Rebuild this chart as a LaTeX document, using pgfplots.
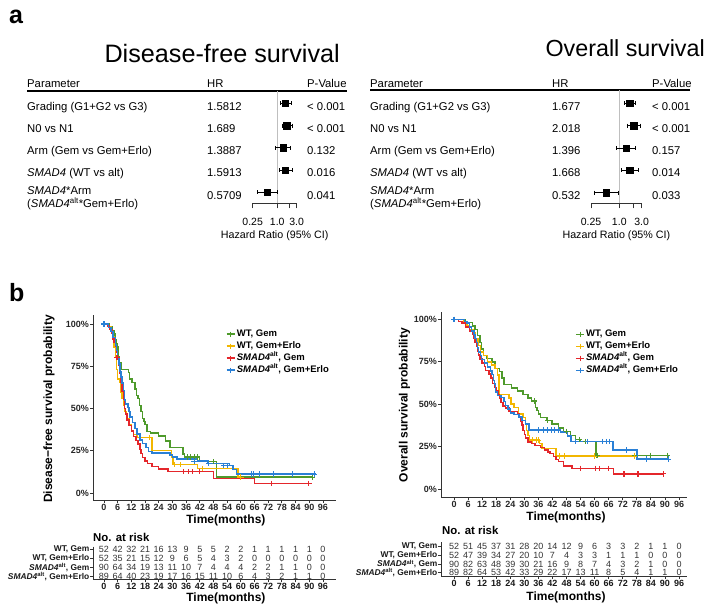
\documentclass[border=0pt]{standalone}
\usepackage{fontspec}
\setmainfont{Liberation Sans}
\usepackage{pgfplots}
\pgfplotsset{compat=1.18}
\definecolor{cG}{HTML}{4E9A2B}
\definecolor{cY}{HTML}{F2B600}
\definecolor{cR}{HTML}{E4262B}
\definecolor{cB}{HTML}{2A80D6}
\newcommand{\fs}[1]{\fontsize{#1}{#1}\selectfont}

\pgfplotsset{
  /pgf/number format/assume math mode=true,
  forestax/.style={anchor=south west, scale only axis, xmin=0.25, xmax=3,
    y dir=reverse, axis x line*=bottom, axis y line=none,
    axis line style={-, black!80, line width=0.6pt},
    xtick={0.25,1,2,3}, xticklabels={0.25,1.0,,3.0}, xminorticks=false, ytick=\empty,
    tick align=outside, major tick length=5pt, xtick style={black!80, line width=0.6pt},
    xticklabel style={font=\fs{10.5}, inner sep=0pt, anchor=north, yshift=-10pt},
    xlabel={Hazard Ratio (95\% CI)},
    xlabel style={font=\fs{10.7}, at={(axis description cs:0.5,0)}, anchor=center, yshift=-32.7pt},
    clip=false},
  ci/.style={black, line width=0.7pt, mark=|, mark size=2pt, mark options={solid}},
  km/.style={anchor=south west, scale only axis,
    axis x line*=bottom, axis y line*=left,
    axis line style={-, black!80, line width=0.9pt},
    xtick={0,6,...,96}, ytick={0,25,50,75,100},
    yticklabels={0\%,25\%,50\%,75\%,100\%},
    tick align=outside, major tick length=3pt, tick style={black!80, line width=0.9pt},
    ticklabel style={font=\fs{9}\bfseries, text=black!85, inner sep=1pt},
    xlabel={Time(months)}, label style={font=\fs{12}\bfseries},
    legend cell align=left,
    legend style={draw=none, fill=none, font=\fs{9.5}\bfseries, row sep=1pt, inner sep=0pt,
      nodes={inner sep=1pt, text height=7pt, text depth=2pt}},
    legend image code/.code={\draw[mark repeat=2,mark phase=2,#1] plot coordinates {(0pt,0pt) (4.2pt,0pt) (8.4pt,0pt)};}},
  kml/.style={const plot, forget plot, line width=1.5pt},
  lgi/.style={line width=1.5pt, mark=+, mark size=2.7pt, mark options={line width=1.1pt}},
  cens/.style={only marks, mark=+, mark size=2.7pt, line width=1.1pt, forget plot},
  rt/.style={anchor=south west, scale only axis, y dir=reverse,
    axis x line*=bottom, axis y line*=left,
    axis line style={-, black!80, line width=0.9pt},
    xtick={0,6,...,96}, ytick={1,2,3,4},
    yticklabels={{WT, Gem},{WT, Gem+Erlo},{\textit{SMAD4}\textsuperscript{alt}, Gem},{\textit{SMAD4}\textsuperscript{alt}, Gem+Erlo}},
    tick align=outside, major tick length=3pt, tick style={black!80, line width=0.9pt},
    ticklabel style={font=\fs{9}\bfseries, text=black!90, inner sep=1pt},
    yticklabel style={font=\fs{8.4}\bfseries, inner sep=0.5pt},
    xlabel={Time(months)}, label style={font=\fs{12}\bfseries}, clip=false},
  cnt/.style={draw=none, mark=none, forget plot, nodes near coords, point meta=explicit symbolic,
    every node near coord/.append style={anchor=center, font=\fs{9}, text=black!80, inner sep=0pt}}
}

\begin{document}
\begin{tikzpicture}[x=1pt,y=-1pt]
\useasboundingbox (0,0) rectangle (714,605);

% panel letters and titles
\node[anchor=base west, inner sep=0pt, font=\fs{25}\bfseries] at (9,23) {a};
\node[anchor=base west, inner sep=0pt, font=\fs{25}\bfseries] at (9,301) {b};
\node[anchor=base east, inner sep=0pt, font=\fs{25.2}] at (340,62) {Disease-free survival};
\node[anchor=base east, inner sep=0pt, font=\fs{23.3}] at (705,56) {Overall survival};

% ---- forest tables (text)
\begin{scope}[every node/.style={inner sep=0pt, font=\fs{11.3}, anchor=base west}]
\node at (27,87) {Parameter}; \node at (207,87) {HR}; \node at (307,87) {P-Value};
\draw[line width=1.4pt] (27,91) -- (347,91);
\node at (27,110.1) {Grading (G1+G2 vs G3)};
\node at (27,132.4) {N0 vs N1};
\node at (27,154.6) {Arm (Gem vs Gem+Erlo)};
\node at (27,176.9) {\textit{SMAD4} (WT vs alt)};
\node at (27,194.5) {\textit{SMAD4}*Arm};
\node at (27,207) {(\textit{SMAD4}\textsuperscript{alt}*Gem+Erlo)};
\node at (207,110.1) {1.5812}; \node at (307,110.1) {< 0.001};
\node at (207,132.4) {1.689};  \node at (307,132.4) {< 0.001};
\node at (207,154.6) {1.3887}; \node at (307,154.6) {0.132};
\node at (207,176.9) {1.5913}; \node at (307,176.9) {0.016};
\node at (207,199.1) {0.5709}; \node at (307,199.1) {0.041};

\node at (370,87) {Parameter}; \node at (552,87) {HR}; \node at (652,87) {P-Value};
\draw[line width=1.4pt] (370,90) -- (690,90);
\node at (370,110.1) {Grading (G1+G2 vs G3)};
\node at (370,132.4) {N0 vs N1};
\node at (370,154.6) {Arm (Gem vs Gem+Erlo)};
\node at (370,176.9) {\textit{SMAD4} (WT vs alt)};
\node at (370,194.5) {\textit{SMAD4}*Arm};
\node at (370,207) {(\textit{SMAD4}\textsuperscript{alt}*Gem+Erlo)};
\node at (552,110.1) {1.677}; \node at (652,110.1) {< 0.001};
\node at (552,132.4) {2.018}; \node at (652,132.4) {< 0.001};
\node at (552,154.6) {1.396}; \node at (652,154.6) {0.157};
\node at (552,176.9) {1.668}; \node at (652,176.9) {0.014};
\node at (552,199.1) {0.532}; \node at (652,199.1) {0.033};
\end{scope}

% ---- forest plot, DFS
\begin{semilogxaxis}[forestax, at={(252.7pt,-203.3pt)}, width=44pt, height=112.3pt, ymin=0.447, ymax=5.494]
\draw[black!25, line width=0.6pt] (axis cs:1,0.447) -- (axis cs:1,5.494);
\addplot[ci] coordinates {(1.22,1) (2.18,1)};
\addplot[ci] coordinates {(1.30,2) (2.30,2)};
\addplot[ci] coordinates {(0.91,3) (2.12,3)};
\addplot[ci] coordinates {(1.10,4) (2.30,4)};
\addplot[ci] coordinates {(0.33,5) (0.98,5)};
\addplot[only marks, mark=square*, mark size=3.2pt, black] coordinates {(1.5812,1) (1.689,2) (1.3887,3) (1.5913,4) (0.5709,5)};
\end{semilogxaxis}

% ---- forest plot, OS
\begin{semilogxaxis}[forestax, at={(591pt,-203.3pt)}, width=50.7pt, height=113.3pt, ymin=0.405, ymax=5.474]
\draw[black!25, line width=0.6pt] (axis cs:1,0.405) -- (axis cs:1,5.474);
\addplot[ci] coordinates {(1.26,1) (2.23,1)};
\addplot[ci] coordinates {(1.45,2) (2.80,2)};
\addplot[ci] coordinates {(0.88,3) (2.21,3)};
\addplot[ci] coordinates {(1.11,4) (2.51,4)};
\addplot[ci] coordinates {(0.30,5) (0.95,5)};
\addplot[only marks, mark=square*, mark size=3.2pt, black] coordinates {(1.677,1) (2.018,2) (1.396,3) (1.668,4) (0.532,5)};
\end{semilogxaxis}

% ---- KM, disease-free survival
\begin{axis}[km, at={(93pt,-500pt)}, width=243pt, height=185pt,
  xmin=-4.8, xmax=101.7, ymin=-4.14, ymax=105.3,
  ylabel={Disease−free survival probability},
  xlabel style={at={(axis description cs:0.547,0)}, anchor=center, yshift=-20pt},
  ylabel style={at={(axis description cs:-0.181,0.492)}, anchor=center},
  legend style={at={(axis cs:53.4,97.3)}, anchor=north west}]
\addlegendimage{cG, lgi}\addlegendentry{WT, Gem}
\addlegendimage{cY, lgi}\addlegendentry{WT, Gem+Erlo}
\addlegendimage{cR, lgi}\addlegendentry{\textit{SMAD4}\textsuperscript{alt}, Gem}
\addlegendimage{cB, lgi}\addlegendentry{\textit{SMAD4}\textsuperscript{alt}, Gem+Erlo}
\addplot[cG, kml] coordinates {(0,100) (2.5,98.1) (3.5,96.2) (4.3,94.2) (4.8,90.4) (5.3,88.5) (5.8,86.5) (6.2,80.8) (6.8,77) (7.6,73.1) (10.8,71.2) (11.3,67.3) (12.3,65.4) (13.5,61.5) (14.3,57.7) (15,55.8) (15.6,51.9) (16.3,48.1) (16.9,44.2) (17.5,42.3) (18,40.4) (18.8,36.5) (20.5,35.6) (23.8,33.7) (27,30.8) (29,26.9) (34.6,23.1) (35.2,21.2) (41.8,18.5) (49.3,9.4) (91.5,9.4)};
\addplot[cY, kml] coordinates {(0,100) (2,98.1) (3,96.2) (3.8,92.3) (4.4,86.5) (5,80.8) (5.5,73.1) (6,67.3) (7,65.4) (7.5,59.6) (8,55.8) (8.5,51.9) (9,48.1) (9.8,44.2) (11,40.4) (12,36.5) (13,34.6) (14.5,32.7) (21,25) (29.5,21.2) (30.3,16.8) (41,14.5) (58.8,9.4) (60,9.4)};
\addplot[cR, kml] coordinates {(0,100) (1.5,98.9) (2.5,96.7) (3.5,94.4) (4,91.1) (4.5,88.9) (5,86.7) (5.5,83.3) (6,80) (6.5,75.6) (7,71.1) (7.5,65.6) (8,60) (8.5,55.6) (9,50) (9.5,46.7) (10,43.3) (11,40) (12,36.7) (13,33.3) (14,31.1) (15,28.9) (15.7,25.6) (16.3,23.3) (17,21.1) (18,18.9) (19,17.4) (21,15.6) (24,14.1) (28,12.6) (48,8.7) (66,5.7) (90.4,5.7)};
\addplot[cB, kml] coordinates {(0,100) (2,97.8) (3,95.5) (4,92.1) (5,87.6) (5.5,84.3) (6,79.8) (6.5,76.4) (7,71.9) (7.5,68.5) (8,65.2) (8.5,60.7) (9,55.1) (9.5,52.8) (10.5,50.6) (11,48.3) (11.5,44.9) (12.5,41.6) (13.5,38.2) (14.5,34.8) (15.9,31.5) (17,29.2) (18.5,27) (19.5,24.7) (21,23.6) (29,22.5) (30,21.3) (32,20.2) (41,18.8) (45.5,17.5) (55,16.2) (56.5,14) (58,11.2) (93,11.2)};
\addplot[cG, cens] coordinates {(36.5,21.2) (38,21.2) (39.5,21.2) (41,21.2) (48,18.5) (60,9.4) (91.5,9.4)};
\addplot[cY, cens] coordinates {(20,32.7) (31,16.8) (33.5,16.8) (43,14.5) (60,9.4)};
\addplot[cR, cens] coordinates {(0,100) (5.7,80) (35,12.6) (37,12.6) (39,12.6) (42,12.6) (73.5,5.7) (89.8,5.7)};
\addplot[cB, cens] coordinates {(0,100) (39.5,18.8) (46,17.5) (52.5,16.2) (54,16.2) (64.5,11.2) (65.5,11.2) (68,11.2) (74.5,11.2) (82.5,11.2) (92.3,11.2)};
\end{axis}

% ---- KM, overall survival
\begin{axis}[km, at={(441pt,-497pt)}, width=246pt, height=185pt,
  xmin=-5.55, xmax=99.4, ymin=-4.72, ymax=104.4,
  ylabel={Overall survival probability},
  xlabel style={at={(axis description cs:0.508,0)}, anchor=center, yshift=-20pt},
  ylabel style={at={(axis description cs:-0.148,0.497)}, anchor=center},
  legend style={at={(axis cs:51.6,94.6)}, anchor=north west}]
\addlegendimage{cG, lgi}\addlegendentry{WT, Gem}
\addlegendimage{cY, lgi}\addlegendentry{WT, Gem+Erlo}
\addlegendimage{cR, lgi}\addlegendentry{\textit{SMAD4}\textsuperscript{alt}, Gem}
\addlegendimage{cB, lgi}\addlegendentry{\textit{SMAD4}\textsuperscript{alt}, Gem+Erlo}
\addplot[cG, kml] coordinates {(0,100) (5,98.1) (7.8,96.2) (9,94.2) (10,90.4) (11,86.5) (11.8,82.7) (12.5,78.8) (14,76.9) (16.3,75) (17.5,71.2) (19.5,69.2) (20.5,65.4) (21.3,61.5) (24.5,59.6) (27,57.7) (29.5,55.8) (31.5,53.8) (33,51.9) (34.8,48.1) (35.5,46.2) (36,44.2) (37,42.2) (39.6,40.4) (41.8,38.2) (44.6,36.1) (46.7,34) (49.6,31.5) (51.8,29.2) (54,28) (60.5,19.8) (91,19.8)};
\addplot[cY, kml] coordinates {(0,100) (4,98.1) (5.5,96.2) (6.5,94.2) (8,92.3) (9.2,88.5) (10.2,84.6) (11.4,80.8) (12.5,78.8) (14.2,75) (16,73.1) (17.5,71.2) (18.5,67.3) (19.2,55.8) (23.5,53.8) (24.3,50) (25.5,48.1) (27.5,44.2) (29.5,42.3) (30.5,38.5) (31,34.6) (31.5,31.7) (32.2,28.8) (36.5,26.9) (37.5,24) (43.5,19.4) (78,19.4)};
\addplot[cR, kml] coordinates {(0,100) (2,98.9) (3.5,97.8) (5,95.6) (6.5,93.3) (8,91.1) (8.5,88.9) (9,86.7) (9.5,84.4) (10,81.1) (10.5,78.9) (11,76.7) (12,74.4) (13,72.2) (13.5,70) (15,67.8) (15.8,65.6) (16.5,62.2) (17.5,60) (18,57.8) (18.8,55.6) (19.5,53.3) (20,51.1) (21,48.9) (22,47.8) (23.5,45.6) (27,44.4) (28,42.2) (28.5,40) (29,37.8) (29.5,34.4) (30,32.2) (30.5,30) (31.5,27.8) (33,26.7) (34.5,25.6) (37,24.4) (38.5,23.1) (40,21.9) (41,20.8) (42.5,19.2) (43.5,17.5) (44.5,16.2) (46.7,13.6) (50.3,12.2) (68,8.9) (89.3,8.9)};
\addplot[cB, kml] coordinates {(0,100) (4.5,98.9) (5.5,97.8) (6.5,95.5) (7.5,93.3) (8.5,91) (9,88.8) (9.5,86.5) (10,83.1) (10.5,80.9) (11.2,78.7) (11.8,76.4) (13,74.2) (14.2,71.9) (15.5,69.7) (16.3,67.4) (16.8,64) (17.3,61.8) (17.8,57.3) (18.5,55.1) (20,53.9) (21.3,51.7) (22,49.4) (23,47.2) (24,44.9) (25.5,43.8) (27.7,42.6) (29,40.4) (30.5,38.2) (32,34.8) (45.5,33.6) (48.5,31.4) (50,28) (67.9,23.1) (78.1,17.6) (91.4,17.6)};
\addplot[cG, cens] coordinates {(0,100) (34.3,51.9) (40,40.4) (48,34) (53.5,29.2) (56,28) (61,19.8) (77,19.8) (84,19.8) (91,19.8)};
\addplot[cY, cens] coordinates {(33.5,28.8) (35,28.8) (36,28.8) (45,19.4) (47,19.4) (60,19.4) (77,19.4)};
\addplot[cR, cens] coordinates {(0,100) (54,12.2) (60.5,12.2) (62,12.2) (66,12.2) (72.5,8.9) (78.5,8.9) (89.3,8.9)};
\addplot[cB, cens] coordinates {(0,100) (36,34.8) (38,34.8) (40,34.8) (41.5,34.8) (43,34.8) (44.5,34.8) (52,28) (57,28) (63.5,28) (65,28) (66.5,28) (73.5,23.1) (82,17.6) (91.4,17.6)};
\end{axis}

% ---- numbers at risk
\node[anchor=west, inner sep=0pt, font=\fs{11.4}\bfseries] at (93,537.5) {No. at risk};
\node[anchor=west, inner sep=0pt, font=\fs{11.4}\bfseries] at (442,530) {No. at risk};

\begin{axis}[rt, at={(93pt,-579.3pt)}, width=243pt, height=32.6pt,
  xmin=-4.8, xmax=101.7, ymin=0.71, ymax=4.33,
  xlabel style={at={(axis description cs:0.547,0)}, anchor=center, yshift=-18.7pt}]
\addplot[cnt] coordinates {(0,1)[52] (6,1)[42] (12,1)[32] (18,1)[21] (24,1)[16] (30,1)[13] (36,1)[9] (42,1)[5] (48,1)[5] (54,1)[2] (60,1)[2] (66,1)[1] (72,1)[1] (78,1)[1] (84,1)[1] (90,1)[1] (96,1)[0]};
\addplot[cnt] coordinates {(0,2)[52] (6,2)[35] (12,2)[21] (18,2)[15] (24,2)[12] (30,2)[9] (36,2)[6] (42,2)[5] (48,2)[4] (54,2)[3] (60,2)[2] (66,2)[0] (72,2)[0] (78,2)[0] (84,2)[0] (90,2)[0] (96,2)[0]};
\addplot[cnt] coordinates {(0,3)[90] (6,3)[64] (12,3)[34] (18,3)[19] (24,3)[13] (30,3)[11] (36,3)[10] (42,3)[7] (48,3)[4] (54,3)[4] (60,3)[4] (66,3)[2] (72,3)[2] (78,3)[1] (84,3)[1] (90,3)[0] (96,3)[0]};
\addplot[cnt] coordinates {(0,4)[89] (6,4)[64] (12,4)[40] (18,4)[23] (24,4)[19] (30,4)[17] (36,4)[16] (42,4)[15] (48,4)[11] (54,4)[10] (60,4)[6] (66,4)[4] (72,4)[3] (78,4)[2] (84,4)[1] (90,4)[1] (96,4)[0]};
\end{axis}

\begin{axis}[rt, at={(441pt,-576pt)}, width=246pt, height=34pt,
  xmin=-5.55, xmax=99.4, ymin=0.458, ymax=4.38,
  xlabel style={at={(axis description cs:0.508,0)}, anchor=center, yshift=-21.7pt}]
\addplot[cnt] coordinates {(0,1)[52] (6,1)[51] (12,1)[45] (18,1)[37] (24,1)[31] (30,1)[28] (36,1)[20] (42,1)[14] (48,1)[12] (54,1)[9] (60,1)[6] (66,1)[3] (72,1)[3] (78,1)[2] (84,1)[1] (90,1)[1] (96,1)[0]};
\addplot[cnt] coordinates {(0,2)[52] (6,2)[47] (12,2)[39] (18,2)[34] (24,2)[27] (30,2)[20] (36,2)[10] (42,2)[7] (48,2)[4] (54,2)[3] (60,2)[3] (66,2)[1] (72,2)[1] (78,2)[1] (84,2)[0] (90,2)[0] (96,2)[0]};
\addplot[cnt] coordinates {(0,3)[90] (6,3)[82] (12,3)[63] (18,3)[48] (24,3)[39] (30,3)[30] (36,3)[21] (42,3)[16] (48,3)[9] (54,3)[8] (60,3)[7] (66,3)[4] (72,3)[3] (78,3)[2] (84,3)[1] (90,3)[0] (96,3)[0]};
\addplot[cnt] coordinates {(0,4)[89] (6,4)[82] (12,4)[64] (18,4)[53] (24,4)[42] (30,4)[33] (36,4)[29] (42,4)[22] (48,4)[17] (54,4)[13] (60,4)[11] (66,4)[8] (72,4)[5] (78,4)[4] (84,4)[1] (90,4)[1] (96,4)[0]};
\end{axis}
\end{tikzpicture}
\end{document}
